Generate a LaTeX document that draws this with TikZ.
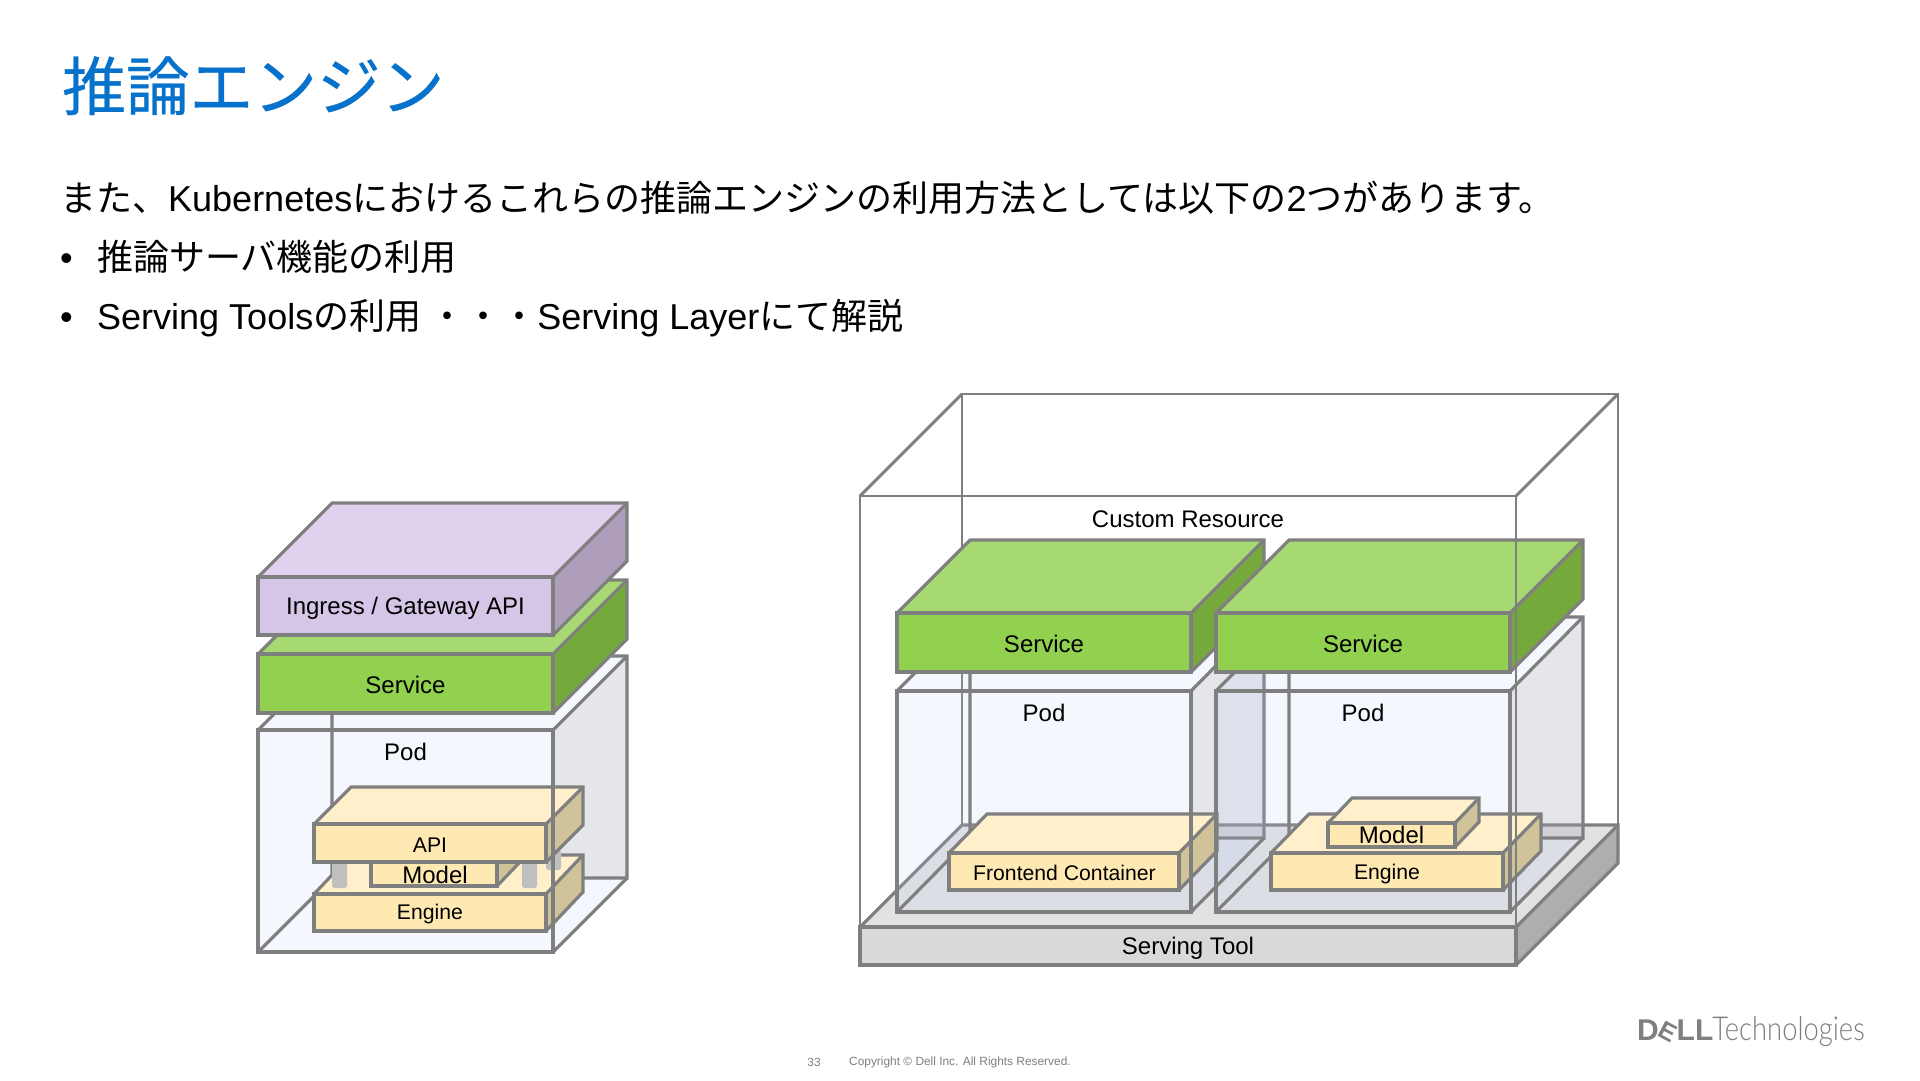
\documentclass[tikz,border=0pt]{standalone}
\usepackage{fontspec}
\usepackage{graphicx}
\setmainfont{Liberation Sans}
\newfontfamily\cjk{Noto Sans CJK JP}
\newfontfamily\cjktitle[FakeBold=0.5]{Noto Sans CJK JP}
\newfontfamily\logofont{Lato Light}
\definecolor{edge}{HTML}{7F7F7F}
\definecolor{titleblue}{HTML}{0672CB}
\definecolor{svcF}{HTML}{92D050}\definecolor{svcT}{HTML}{A6D971}\definecolor{svcS}{HTML}{76A93C}
\definecolor{ingF}{HTML}{D5C6E8}\definecolor{ingT}{HTML}{E0D2EE}\definecolor{ingS}{HTML}{AE9DBB}
\definecolor{conF}{HTML}{FFE9B2}\definecolor{conT}{HTML}{FFF0CB}\definecolor{conS}{HTML}{D0C39A}
\definecolor{toolF}{HTML}{D9D9D9}\definecolor{toolT}{HTML}{E2E2E2}\definecolor{toolS}{HTML}{AEAEAE}
\definecolor{podglass}{HTML}{B6CAF8}\definecolor{podside}{HTML}{89857D}
\definecolor{pillar}{HTML}{BFBFBF}
% solid cuboid: x1,y1 (front top-left), x2,y2 (front bottom-right), dx, dy, colours front/top/side
\newcommand{\solidbox}[9]{%
  \fill[#8] (#1,#2) -- ({#1+#5},{#2-#6}) -- ({#3+#5},{#2-#6}) -- (#3,#2) -- cycle;
  \fill[#9] (#3,#2) -- ({#3+#5},{#2-#6}) -- ({#3+#5},{#4-#6}) -- (#3,#4) -- cycle;
  \draw[boxline] (#1,#2) -- ({#1+#5},{#2-#6}) -- ({#3+#5},{#2-#6}) -- ({#3+#5},{#4-#6}) -- (#3,#4);
  \draw[boxline] (#3,#2) -- ({#3+#5},{#2-#6});
  \draw[boxline,fill=#7] (#1,#2) rectangle (#3,#4);
}
% glass pod, back part
\newcommand{\podback}[6]{%
  \fill[podglass,fill opacity=.15] (#1,#2) -- ({#1+#5},{#2-#6}) -- ({#3+#5},{#2-#6}) -- ({#3+#5},{#4-#6}) -- (#3,#4) -- (#1,#4) -- cycle;
  \fill[podside,fill opacity=.14] (#3,#2) -- ({#3+#5},{#2-#6}) -- ({#3+#5},{#4-#6}) -- (#3,{#4-#6}) -- cycle;
  \draw[boxline] ({#1+#5},{#4-#6}) -- ({#1+#5},{#2-#6}) -- ({#3+#5},{#2-#6}) -- ({#3+#5},{#4-#6}) -- ({#1+#5},{#4-#6}) -- (#1,#4);
}
% glass pod, front part
\newcommand{\podfront}[6]{%
  \draw[boxline] (#1,#2) -- ({#1+#5},{#2-#6});
  \draw[boxline] (#3,#2) -- ({#3+#5},{#2-#6});
  \draw[boxline] (#3,#4) -- ({#3+#5},{#4-#6});
  \draw[boxline] (#1,#2) rectangle (#3,#4);
}
\tikzset{
  boxline/.style={draw=edge,line width=3.2pt,line join=miter},
  thinline/.style={draw=edge,line width=2.9pt,line join=miter},
  lab/.style={inner sep=0pt,text=black,font=\fontsize{24}{29}\selectfont,anchor=center},
  smalllab/.style={inner sep=0pt,text=black,font=\fontsize{21.2}{26}\selectfont,anchor=center},
  body/.style={inner sep=0pt,anchor=base west,text=black,font=\fontsize{36}{42}\selectfont},
  foot/.style={inner sep=0pt,anchor=center,text=edge,font=\fontsize{11.9}{14}\selectfont},
  pill/.style={fill=pillar,rounded corners=2.5pt}
}
\begin{document}
\begin{tikzpicture}[x=1pt,y=-1pt]
\useasboundingbox (0,0) rectangle (1920,1080);
\fill[white] (0,0) rectangle (1920,1080);

% heading
\node[inner sep=0pt,anchor=base west,text=titleblue,font=\fontsize{63.7}{70}\selectfont\cjktitle] (title) at (62,110) {推論エンジン};
\node[body] (lead) at (60,211) {{\cjk また、}Kubernetes{\cjk における}{\cjk これらの推論エンジンの利用方法としては以下の}2{\cjk つがあります。}};
\node[body] (dot1) at (60,270.5) {•};
\node[body] (item1) at (97,270.5) {\cjk 推論サーバ機能の利用};
\node[body] (dot2) at (60,329) {•};
\node[body] (item2) at (97,329) {Serving Tools{\cjk の利用 ・・・}Serving Layer{\cjk にて解説}};

%%% LEFT STACK
\podback{258}{730}{553}{952}{74}{74}
\solidbox{314}{894}{546}{931}{37}{39}{conF}{conT}{conS}
\fill[pill] (332,858) rectangle (347,888);
\fill[pill] (522,858) rectangle (537,888);
\fill[pill] (546,850) rectangle (561,870);
\solidbox{371}{862}{497}{886}{23}{24}{conF}{conT}{conS}
\solidbox{314}{824}{546}{862}{37}{37}{conF}{conT}{conS}
\podfront{258}{730}{553}{952}{74}{74}
\solidbox{258}{654}{553}{713}{74}{74}{svcF}{svcT}{svcS}
\solidbox{258}{577}{553}{635}{74}{74}{ingF}{ingT}{ingS}
\node[lab] (ingress) at (405.5,608) {Ingress / Gateway API};
\node[lab] (svcL) at (405.5,684.5) {Service};
\node[lab] (podL) at (405.5,752) {Pod};
\node[smalllab] (apiL) at (430,845) {API};
\node[lab] (modelL) at (435,875) {Model};
\node[smalllab] (engL) at (430,914) {Engine};

%%% RIGHT STACK
% custom resource, back edges
\draw[thinline] (962,825) -- (962,394) -- (1618,394) -- (1618,825);
\draw[thinline] (860,496) -- (962,394);
% serving tool
\solidbox{860}{927}{1516}{965}{102}{102}{toolF}{toolT}{toolS}
\podback{897}{691}{1191}{912}{73}{74}
\podback{1216}{691}{1510}{912}{73}{74}
\solidbox{949}{853}{1179}{890}{38}{39}{conF}{conT}{conS}
\solidbox{1271}{853}{1503}{890}{38}{39}{conF}{conT}{conS}
\solidbox{1328}{823}{1455}{847}{24}{25}{conF}{conT}{conS}
\podfront{897}{691}{1191}{912}{73}{74}
\podfront{1216}{691}{1510}{912}{73}{74}
\solidbox{897}{613}{1191}{672}{73}{73}{svcF}{svcT}{svcS}
\solidbox{1216}{613}{1510}{672}{73}{73}{svcF}{svcT}{svcS}
% custom resource, front edges
\draw[thinline] (860,927) -- (860,496) -- (1516,496) -- (1516,927);
\draw[thinline] (1516,496) -- (1618,394);
\node[lab] (cr) at (1188,519) {Custom Resource};
\node[lab] (svcA) at (1044,643.5) {Service};
\node[lab] (svcB) at (1363,643.5) {Service};
\node[lab] (podA) at (1044,712.5) {Pod};
\node[lab] (podB) at (1363,712.5) {Pod};
\node[smalllab] (front) at (1064.5,873) {Frontend Container};
\node[smalllab] (engR) at (1387,874.5) {Engine};
\node[lab] (modelR) at (1391.5,835) {Model};
\node[lab] (tool) at (1188,948) {Serving Tool};

%%% FOOTER
\node[foot] (page) at (814,1062.5) {33};
\node[foot,anchor=west] (copy) at (849,1062.5) {Copyright © Dell Inc. All Rights Reserved.};
\node[inner sep=0pt,anchor=base west,text=edge,font=\fontsize{30}{34}\selectfont\bfseries] (dell) at (1637,1040) {D\kern-2.5pt\rotatebox[origin=c]{-28}{\fontsize{25}{28}\selectfont E}\kern-2.5pt LL};
\node[inner sep=0pt,anchor=base east,text=edge,font=\fontsize{33}{38}\selectfont\logofont] (tech) at (1865,1040) {\scalebox{.83}[1]{Technologies}};
\end{tikzpicture}
\end{document}
